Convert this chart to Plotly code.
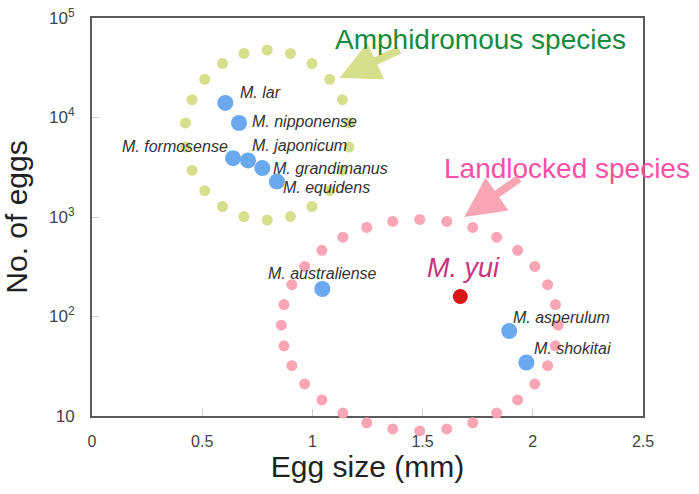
import math
import plotly.graph_objects as go

# ---- data ----
species = ["M. lar", "M. nipponense", "M. formosense", "M. japonicum",
           "M. grandimanus", "M. equidens", "M. australiense",
           "M. asperulum", "M. shokitai"]
egg_size_mm = [0.605, 0.667, 0.640, 0.708, 0.773, 0.839, 1.045, 1.893, 1.971]
egg_count = [14000, 8800, 3900, 3700, 3100, 2270, 189, 71.5, 34.5]

yui_name = "M. yui"
yui_egg_size = [1.671]
yui_egg_count = [159]

x_tickvals = [0, 0.5, 1, 1.5, 2, 2.5]
x_ticktext = ["0", "0.5", "1", "1.5", "2", "2.5"]
y_tickvals = [10, 100, 1000, 10000, 100000]
y_ticktext = ["10", "10<sup>2</sup>", "10<sup>3</sup>", "10<sup>4</sup>", "10<sup>5</sup>"]

# label placement (anchor, x shift px, y shift px) per species
label_layout = {
    "M. lar": ("left", 13, 10),
    "M. nipponense": ("left", 11, 2),
    "M. formosense": ("right", -3, 12),
    "M. japonicum": ("left", 2, 15),
    "M. grandimanus": ("left", 9, 0),
    "M. equidens": ("left", 4, -6),
    "M. australiense": ("center", 0, 15),
    "M. asperulum": ("left", 2, 14),
    "M. shokitai": ("left", 6, 14),
}

# decorative dotted rings: centre x, centre log10(y), radius x, radius in decades, dot count
amphi_ring = (0.795, 3.824, 0.375, 0.854, 22)
land_ring = (1.487, 1.913, 0.628, 1.063, 32)

FONT = "Liberation Sans, Arial, Helvetica, sans-serif"
GREEN_DOT = "#d6df8c"
PINK_DOT = "#f8a6b6"

# geometry of the plot area (pixels)
FIG_W, FIG_H = 699, 494
M_L, M_R, M_T = 92, 56, 18
AXIS_BOTTOM_PX = 416          # where the x axis line sits
M_B = 30                      # extra room below the axis for the overflow ring layer
Y_RANGE = [1, 5]
area_h = FIG_H - M_T - M_B
px_per_decade = (AXIS_BOTTOM_PX - M_T) / (Y_RANGE[1] - Y_RANGE[0])
y_dom_bottom = (FIG_H - M_B - AXIS_BOTTOM_PX) / area_h
y2_low = Y_RANGE[0] - (FIG_H - M_B - AXIS_BOTTOM_PX) / px_per_decade


def ring_points(cx, cy_log, rx, ry_log, n):
    xs, ys = [], []
    for k in range(n):
        a = math.radians(90 + 360.0 * k / n)
        xs.append(cx + rx * math.cos(a))
        ys.append(10 ** (cy_log + ry_log * math.sin(a)))
    return xs, ys


fig = go.Figure()

fig.add_trace(go.Scatter(x=egg_size_mm, y=egg_count, mode="markers",
                         marker=dict(size=16, color="#6aa9ee"),
                         showlegend=False, cliponaxis=False))
fig.add_trace(go.Scatter(x=yui_egg_size, y=yui_egg_count, mode="markers",
                         marker=dict(size=15, color="#d81818"),
                         showlegend=False, cliponaxis=False))

for ring, col in ((amphi_ring, GREEN_DOT), (land_ring, PINK_DOT)):
    rx_, ry_ = ring_points(*ring)
    fig.add_trace(go.Scatter(x=rx_, y=ry_, mode="markers", yaxis="y2",
                             marker=dict(size=11, color=col),
                             cliponaxis=False, hoverinfo="skip", showlegend=False))

annotations = []
for name, xv, yv in zip(species, egg_size_mm, egg_count):
    anchor, dx, dy = label_layout[name]
    annotations.append(dict(x=xv, y=math.log10(yv), xref="x", yref="y",
                            text="<i>" + name + "</i>", showarrow=False,
                            xanchor=anchor, yanchor="middle", xshift=dx, yshift=dy,
                            font=dict(family=FONT, size=16, color="#333333")))

annotations.append(dict(x=yui_egg_size[0], y=math.log10(yui_egg_count[0]),
                        xref="x", yref="y", text="<i>" + yui_name + "</i>",
                        showarrow=False, xanchor="center", yanchor="middle",
                        xshift=3, yshift=28,
                        font=dict(family=FONT, size=27, color="#c8337e")))

# arrows
annotations.append(dict(x=1.123, y=4.397, xref="x", yref="y", text=" ",
                        showarrow=True, ax=62, ay=-29, arrowhead=2,
                        arrowsize=1.0, arrowwidth=8, arrowcolor=GREEN_DOT,
                        font=dict(size=2)))
annotations.append(dict(x=1.689, y=3.0, xref="x", yref="y", text=" ",
                        showarrow=True, ax=57, ay=-40, arrowhead=2,
                        arrowsize=1.0, arrowwidth=8, arrowcolor=PINK_DOT,
                        font=dict(size=2)))

annotations.append(dict(x=1.762, y=4.779, xref="x", yref="y",
                        text="Amphidromous species", showarrow=False,
                        xanchor="center", yanchor="middle",
                        font=dict(family=FONT, size=28, color="#178a3c")))
annotations.append(dict(x=2.156, y=3.492, xref="x", yref="y",
                        text="Landlocked species", showarrow=False,
                        xanchor="center", yanchor="middle",
                        font=dict(family=FONT, size=28, color="#fb50a6")))

fig.update_layout(
    width=FIG_W, height=FIG_H,
    margin=dict(l=M_L, r=M_R, t=M_T, b=M_B),
    paper_bgcolor="white", plot_bgcolor="rgba(0,0,0,0)",
    font=dict(family=FONT, color="#333333"),
    annotations=annotations,
    showlegend=False,
    yaxis2=dict(type="log", range=[y2_low, Y_RANGE[1]], domain=[0, 1],
                anchor="x", visible=False, automargin=False),
)

fig.update_xaxes(range=[0, 2.5], tickvals=x_tickvals, ticktext=x_ticktext,
                 showgrid=False, zeroline=False, automargin=False,
                 showline=True, mirror=True, linecolor="#5a5a5a", linewidth=2,
                 ticks="inside", ticklen=7, tickcolor="#d0d0d0", tickwidth=1,
                 ticklabelstandoff=10,
                 tickfont=dict(family=FONT, size=16, color="#444444"),
                 title=dict(text="Egg size (mm)", standoff=6,
                            font=dict(family=FONT, size=30, color="#222222")))

fig.update_layout(yaxis=dict(
    type="log", range=Y_RANGE, domain=[y_dom_bottom, 1],
    tickvals=y_tickvals, ticktext=y_ticktext,
    showgrid=False, zeroline=False, automargin=False,
    showline=True, mirror=True, linecolor="#5a5a5a", linewidth=2,
    ticks="inside", ticklen=7, tickcolor="#d0d0d0", tickwidth=1,
    ticklabelstandoff=12,
    tickfont=dict(family=FONT, size=17, color="#444444"),
    title=dict(text="No. of eggs", standoff=16,
               font=dict(family=FONT, size=30, color="#222222"))))

fig.write_html("out.html")
